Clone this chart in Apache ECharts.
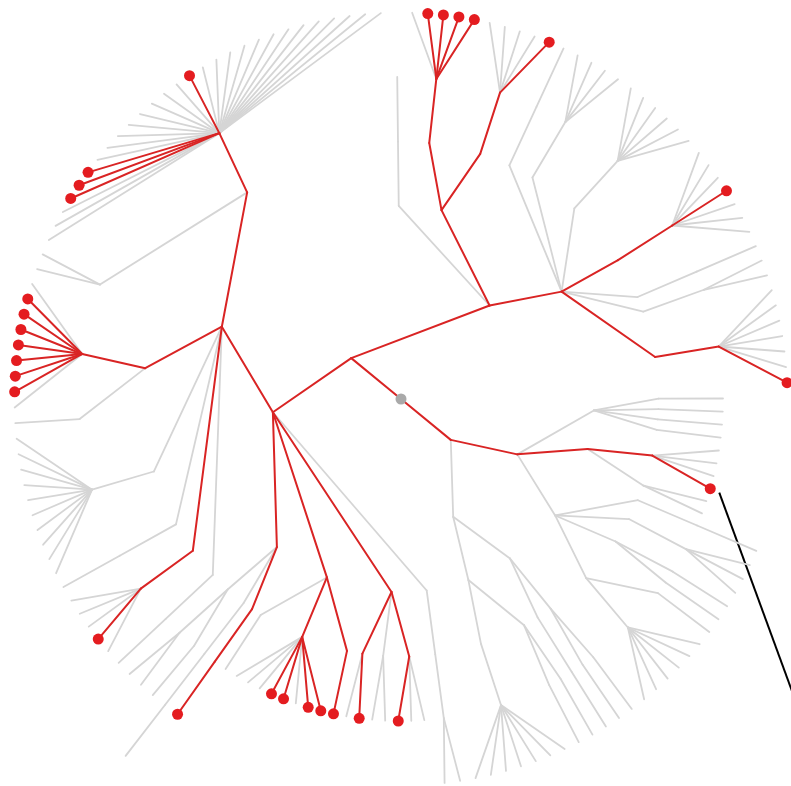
<!DOCTYPE html>
<html>
<head>
<meta charset="utf-8">
<script src="https://cdn.jsdelivr.net/npm/echarts@6/dist/echarts.min.js"></script>
<style>
  html, body { margin: 0; padding: 0; background: #ffffff; }
  #chart { width: 791px; height: 786px; }
</style>
</head>
<body>
<div id="chart"></div>
<script>
// Tree topology, children listed clockwise.
// 0 = leaf, 1 = highlighted leaf, array = internal node.
const cladeA1 = [
  [[[0, 0]]],
  [[0, 0, 1], [0, 0], [1, 0]],
  [[1], [1, 1, 0, 1, 1, 0, 0, 0], [0]],
  [[[1]], [[[0]]], [[0], [0, 0]]],
  [
    [[0]],
    [[0, 1, 0, 0, 0]],
    [[0]],
    [[0, 0, 0, 0, 0, 0, 0, 0, 0, 0]],
    [[0], [0, 1, 1, 1, 1, 1, 1, 1, 0]],
    [[0, 0], [0, 0, 0, 1, 1, 1, 0, 0, 0, 0, 0, 0, 0, 0, 1, 0, 0, 0, 0, 0, 0, 0, 0, 0, 0, 0, 0, 0]]
  ]
];

const cladeA2 = [
  [[0]],
  [[[0, 1, 1, 1, 1]], [[0, 0, 0, 0, 1]]],
  [[[0]], [[0, 0, 0, 0]], [[0, 0, 0, 0, 0, 0]], [[0, 0, 0, 1, 0, 0, 0]], [[0]], [[0, 0]], [[0, 0, 0, 0, 0, 0, 1]]]
];

const cladeB1 = [
  [[0], [0], [0], [0]],
  [[0, 0, 0, 1], [0, 0]],
  [[[0]], [[0, 0, 0]], [[0], [0]], [[0], [0, 0, 0, 0, 0, 0]]]
];

const cladeB2 = [
  [[[0], [0]], [[0]]],
  [[[0], [0]], [[0, 0, 0, 0, 0, 0, 0]]]
];

const treeRoot = [[cladeA1, cladeA2], [cladeB1, cladeB2]];

// Where the first leaf sits, in degrees clockwise from 12 o'clock.
const firstLeafBearing = 171.2;
const maxDepth = 7;

const COLOR_BRANCH = '#d5d5d5';
const COLOR_PATH = '#d92424';
const COLOR_DOT = '#e41c20';
const COLOR_ROOT = '#a9a9a9';

// Leaves sit one unit apart on the angle axis, each internal node at the
// middle of the leaves it spans; depth is the radius.
let leafCount = 0;
const nodes = [];
function walk(item, depth, parent) {
  const node = { depth: depth, parent: parent, hot: false, leaf: false };
  nodes.push(node);
  if (Array.isArray(item)) {
    node.lo = Infinity;
    node.hi = -Infinity;
    item.forEach(function (child) {
      const c = walk(child, depth + 1, node);
      node.lo = Math.min(node.lo, c.lo);
      node.hi = Math.max(node.hi, c.hi);
      if (c.hot) node.hot = true;
    });
  } else {
    node.lo = node.hi = leafCount++;
    node.hot = item === 1;
    node.leaf = true;
  }
  node.pos = (node.lo + node.hi) / 2;
  return node;
}
const root = walk(treeRoot, 0, null);

const greyEdges = [];
const redEdges = [];
nodes.forEach(function (n) {
  if (!n.parent) return;
  const row = [n.parent.depth, n.parent.pos, n.depth, n.pos];
  (n.hot ? redEdges : greyEdges).push(row);
});
const redLeaves = nodes.filter(function (n) { return n.leaf && n.hot; })
  .map(function (n) { return [n.depth, n.pos]; });

function edgeRenderer(color, width) {
  return function (params, api) {
    const p1 = api.coord([api.value(0), api.value(1)]);
    const p2 = api.coord([api.value(2), api.value(3)]);
    return {
      type: 'line',
      shape: { x1: p1[0], y1: p1[1], x2: p2[0], y2: p2[1] },
      style: { stroke: color, lineWidth: width, lineCap: 'round' }
    };
  };
}

const chart = echarts.init(document.getElementById('chart'), null, { renderer: 'canvas' });
chart.setOption({
  animation: false,
  backgroundColor: '#ffffff',
  polar: { center: [401, 399], radius: 64.4 * maxDepth },
  angleAxis: {
    type: 'value', min: 0, max: leafCount,
    startAngle: 90 - firstLeafBearing + 360, clockwise: true, show: false
  },
  radiusAxis: { type: 'value', min: 0, max: maxDepth, show: false },
  series: [
    {
      type: 'custom', name: 'branches', coordinateSystem: 'polar',
      encode: { radius: [0, 2], angle: [1, 3] },
      renderItem: edgeRenderer(COLOR_BRANCH, 1.8),
      data: greyEdges, clip: false, silent: true
    },
    {
      type: 'custom', name: 'paths', coordinateSystem: 'polar',
      encode: { radius: [0, 2], angle: [1, 3] },
      renderItem: edgeRenderer(COLOR_PATH, 2),
      data: redEdges, clip: false, silent: true
    },
    {
      type: 'scatter', name: 'selected', coordinateSystem: 'polar',
      symbolSize: 11, itemStyle: { color: COLOR_DOT, opacity: 1 },
      data: redLeaves, silent: true
    },
    {
      type: 'scatter', name: 'root', coordinateSystem: 'polar',
      symbolSize: 11, itemStyle: { color: COLOR_ROOT, opacity: 1 },
      data: [[root.depth, root.pos]], silent: true
    }
  ]
});

// Callout line leaving the last highlighted leaf.
const callout = redLeaves[redLeaves.length - 1];
const px = chart.convertToPixel({ seriesIndex: 2 }, callout);
if (px) {
  const x0 = px[0] + 9, y0 = px[1] + 4;
  chart.setOption({
    graphic: [{
      type: 'line', silent: true,
      shape: { x1: x0, y1: y0, x2: x0 + 110, y2: y0 + 300 },
      style: { stroke: '#000000', lineWidth: 2 }
    }]
  });
}
</script>
</body>
</html>
